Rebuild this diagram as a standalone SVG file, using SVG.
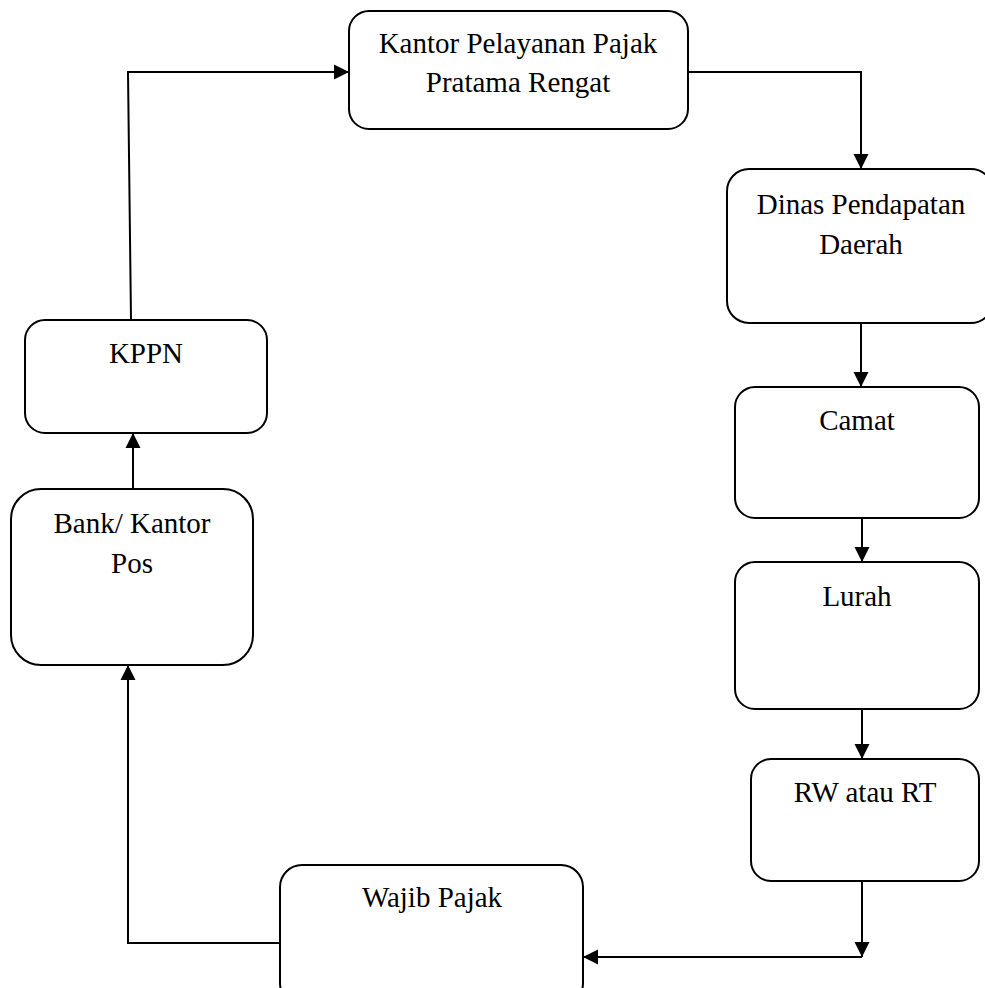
<svg xmlns="http://www.w3.org/2000/svg" width="985" height="988" viewBox="0 0 985 988">
  <style>
    .box { fill: #ffffff; stroke: #000000; stroke-width: 2; }
    .lbl { font-family: "Liberation Serif", "Times New Roman", serif; font-size: 29px; fill: #000000; text-anchor: middle; }
    .link { fill: none; stroke: #000000; stroke-width: 2; }
    .arrow { marker-end: url(#head); }
  </style>
  <defs>
    <marker id="head" markerUnits="userSpaceOnUse" markerWidth="16" markerHeight="16" viewBox="0 0 16 16" refX="15" refY="8" orient="auto">
      <path d="M0,0.5 L15,8 L0,15.5 Z" fill="#000000"/>
    </marker>
  </defs>
  <rect width="985" height="988" fill="#ffffff"/>

  <g id="connectors">
    <path class="link arrow" d="M688,72 H861 V169"/>
    <path class="link arrow" d="M861,323 V387"/>
    <path class="link arrow" d="M862,518 V562"/>
    <path class="link arrow" d="M862,709 V759"/>
    <path class="link arrow" d="M862,881 V957"/>
    <path class="link arrow" d="M862,957 H583"/>
    <path class="link arrow" d="M280,943 H128 V665"/>
    <path class="link arrow" d="M133,489 V433"/>
    <path class="link arrow" d="M131,320 L128,72 H349"/>
  </g>

  <g id="kpp-pratama-rengat">
    <rect class="box" x="349" y="11" width="339" height="118" rx="20"/>
    <text class="lbl" x="518" y="53">Kantor Pelayanan Pajak</text>
    <text class="lbl" x="518" y="92">Pratama Rengat</text>
  </g>

  <g id="dinas-pendapatan-daerah">
    <rect class="box" x="727" y="169" width="266" height="154" rx="22"/>
    <text class="lbl" x="861" y="214">Dinas Pendapatan</text>
    <text class="lbl" x="861" y="254">Daerah</text>
  </g>

  <g id="camat">
    <rect class="box" x="735" y="387" width="244" height="131" rx="20"/>
    <text class="lbl" x="857" y="430">Camat</text>
  </g>

  <g id="lurah">
    <rect class="box" x="735" y="562" width="244" height="147" rx="20"/>
    <text class="lbl" x="857" y="606">Lurah</text>
  </g>

  <g id="rw-rt">
    <rect class="box" x="751" y="759" width="228" height="122" rx="20"/>
    <text class="lbl" x="865" y="802">RW atau RT</text>
  </g>

  <g id="wajib-pajak">
    <rect class="box" x="280" y="865" width="303" height="140" rx="22"/>
    <text class="lbl" x="432" y="907">Wajib Pajak</text>
  </g>

  <g id="bank-kantor-pos">
    <rect class="box" x="11" y="489" width="242" height="176" rx="30"/>
    <text class="lbl" x="132" y="533">Bank/ Kantor</text>
    <text class="lbl" x="132" y="573">Pos</text>
  </g>

  <g id="kppn">
    <rect class="box" x="25" y="320" width="242" height="113" rx="20"/>
    <text class="lbl" x="146" y="363">KPPN</text>
  </g>
</svg>
